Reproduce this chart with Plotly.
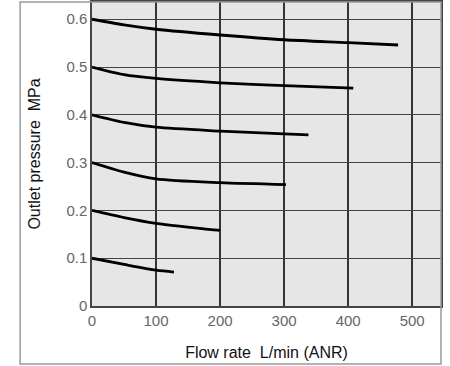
import plotly.graph_objects as go

# flow rate (L/min ANR) and outlet pressure (MPa) for each set pressure
flow_06 = [0, 50, 100, 200, 300, 400, 478]
pres_06 = [0.600, 0.588, 0.579, 0.567, 0.557, 0.551, 0.546]

flow_05 = [0, 50, 100, 200, 300, 408]
pres_05 = [0.500, 0.484, 0.476, 0.467, 0.461, 0.456]

flow_04 = [0, 50, 100, 200, 300, 338]
pres_04 = [0.400, 0.384, 0.374, 0.366, 0.360, 0.358]

flow_03 = [0, 50, 100, 200, 303]
pres_03 = [0.300, 0.280, 0.266, 0.258, 0.254]

flow_02 = [0, 50, 100, 200]
pres_02 = [0.200, 0.185, 0.173, 0.158]

flow_01 = [0, 50, 100, 128]
pres_01 = [0.100, 0.087, 0.075, 0.071]

x_ticks = [0, 100, 200, 300, 400, 500]
y_ticks = [0, 0.1, 0.2, 0.3, 0.4, 0.5, 0.6]
y_tick_text = ["0", "0.1", "0.2", "0.3", "0.4", "0.5", "0.6"]

series = [
    (flow_06, pres_06), (flow_05, pres_05), (flow_04, pres_04),
    (flow_03, pres_03), (flow_02, pres_02), (flow_01, pres_01),
]

fig = go.Figure()
for fx, fy in series:
    fig.add_trace(go.Scatter(
        x=fx, y=fy, mode="lines",
        line=dict(color="black", width=2.8, shape="spline", smoothing=0.8),
        showlegend=False, hoverinfo="skip",
    ))

font = "Liberation Sans, Arial, sans-serif"

fig.update_layout(
    width=450, height=366,
    margin=dict(l=92, r=9, t=2, b=60),
    paper_bgcolor="white",
    plot_bgcolor="#e6e6e6",
    font=dict(family=font, size=14, color="#555"),
    xaxis=dict(
        range=[0, 545], tickvals=x_ticks, showgrid=True,
        gridcolor="#333", gridwidth=1.5, zeroline=False,
        showline=True, linecolor="#444", linewidth=1.5, mirror=True,
        ticks="", tickfont=dict(size=15, color="#666"), automargin=False,
        title=dict(text="Flow rate  L/min (ANR)", standoff=19,
                   font=dict(size=16, color="#111")),
    ),
    yaxis=dict(
        range=[0, 0.636], tickvals=y_ticks, ticktext=y_tick_text,
        showgrid=True, gridcolor="#444", gridwidth=1.3, zeroline=False,
        showline=True, linecolor="#444", linewidth=1.5, mirror=True,
        ticks="", tickfont=dict(size=15, color="#666"), automargin=False,
        title=dict(text="Outlet pressure  MPa", standoff=22,
                   font=dict(size=16, color="#111")),
    ),
)

# outer frame around the whole chart
fig.add_shape(type="rect", xref="paper", yref="paper",
              x0=-0.206, x1=1.0, y0=-0.191, y1=1.0,
              line=dict(color="#999", width=1.5), layer="above")

# drop the browser's default body margin so the figure sits at the corner
fig.write_html("out.html", config={"displayModeBar": False},
               post_script="document.body.style.margin='0';")
